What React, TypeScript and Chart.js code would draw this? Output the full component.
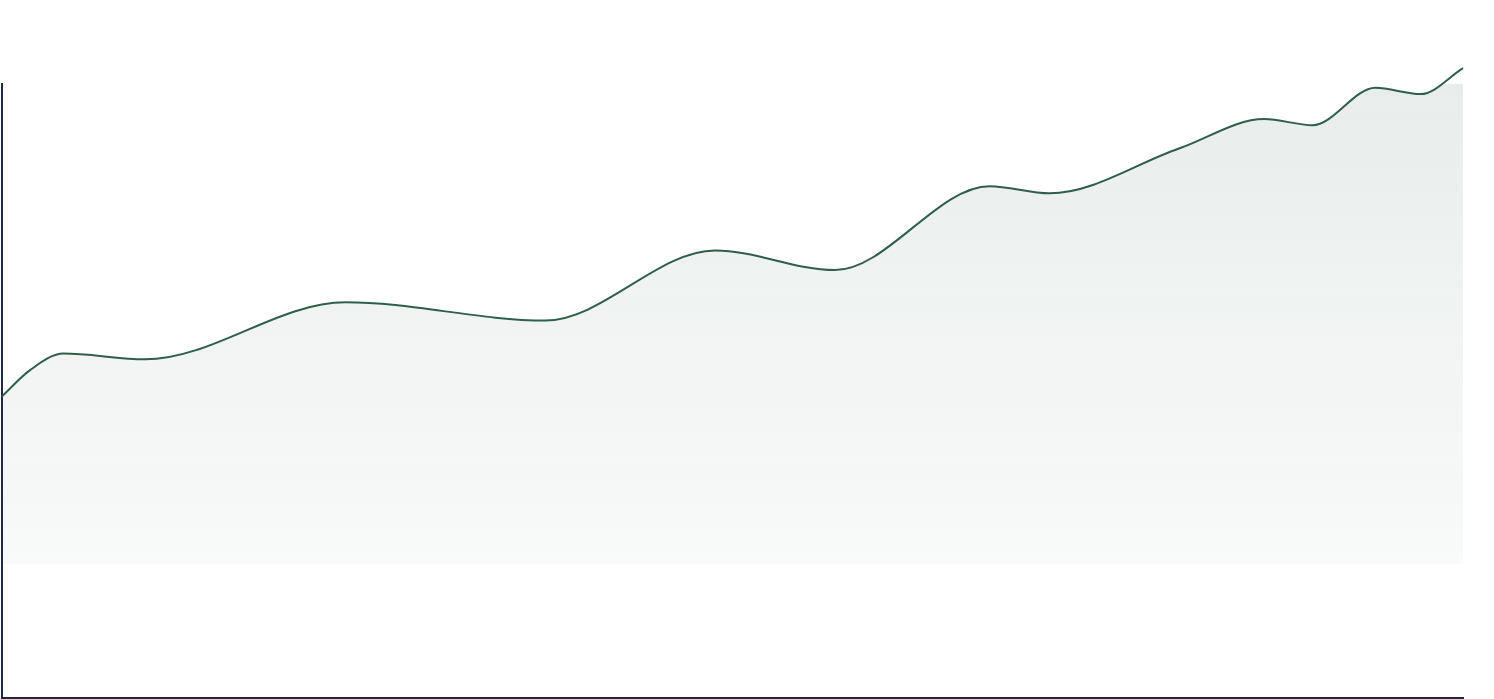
import { useEffect, useRef } from "react";
import { Chart, type ChartConfiguration } from "chart.js/auto";

// turning points of the curve
const xValues: number[] = [
  0, 1.9, 4.2, 9.8, 23.5, 37.2, 48.8, 57.0, 67.6, 71.7, 80.6, 86.4, 89.7, 94.0, 97.1, 100,
];
const yValues: number[] = [
  34.9, 40.3, 43.8, 42.6, 54.5, 50.7, 65.3, 61.2, 78.7, 77.2, 86.6, 92.7, 91.4, 99.2, 97.9, 103.3,
];
const xMin = 0;
const xMax = 100;
const yMin = -28;
const yMax = 100;

const LINE = "#2f5f4b";
const AXIS = "#1f2944";

export default function App() {
  const chartRef = useRef<HTMLCanvasElement | null>(null);
  const chartInstance = useRef<Chart | null>(null);

  useEffect(() => {
    document.body.style.margin = "0";
    if (!chartRef.current) return;
    const ctx = chartRef.current.getContext("2d");
    if (!ctx) return;

    if (chartInstance.current) {
      chartInstance.current.destroy();
    }

    const points = xValues.map((x, i) => ({ x, y: yValues[i] }));

    const config: ChartConfiguration<"line", { x: number; y: number }[]> = {
      type: "line",
      data: {
        datasets: [
          {
            data: points,
            borderColor: LINE,
            borderWidth: 2,
            cubicInterpolationMode: "monotone",
            pointRadius: 0,
            fill: "origin",
            clip: false,
            backgroundColor: (c) => {
              const area = c.chart.chartArea;
              if (!area) return "rgba(47,95,75,0.08)";
              const yScale = c.chart.scales.y;
              const g = c.chart.ctx.createLinearGradient(0, area.top, 0, yScale.getPixelForValue(0));
              g.addColorStop(0, "rgba(47,95,75,0.11)");
              g.addColorStop(1, "rgba(47,95,75,0.03)");
              return g;
            },
          },
        ],
      },
      options: {
        responsive: true,
        maintainAspectRatio: false,
        animation: false,
        layout: { padding: { left: 2, right: 31, top: 84, bottom: 1 } },
        plugins: {
          legend: { display: false },
          tooltip: { enabled: false },
        },
        scales: {
          x: {
            type: "linear",
            min: xMin,
            max: xMax,
            grid: { display: false, drawTicks: false },
            ticks: { display: false },
            border: { display: true, color: AXIS, width: 2 },
          },
          y: {
            min: yMin,
            max: yMax,
            grid: { display: false, drawTicks: false },
            ticks: { display: false },
            border: { display: true, color: AXIS, width: 2 },
          },
        },
      },
    };

    chartInstance.current = new Chart(ctx, config);

    return () => {
      chartInstance.current?.destroy();
    };
  }, []);

  return (
    <div style={{ width: 1494, height: 699, position: "relative" }}>
      <canvas ref={chartRef}></canvas>
    </div>
  );
}
